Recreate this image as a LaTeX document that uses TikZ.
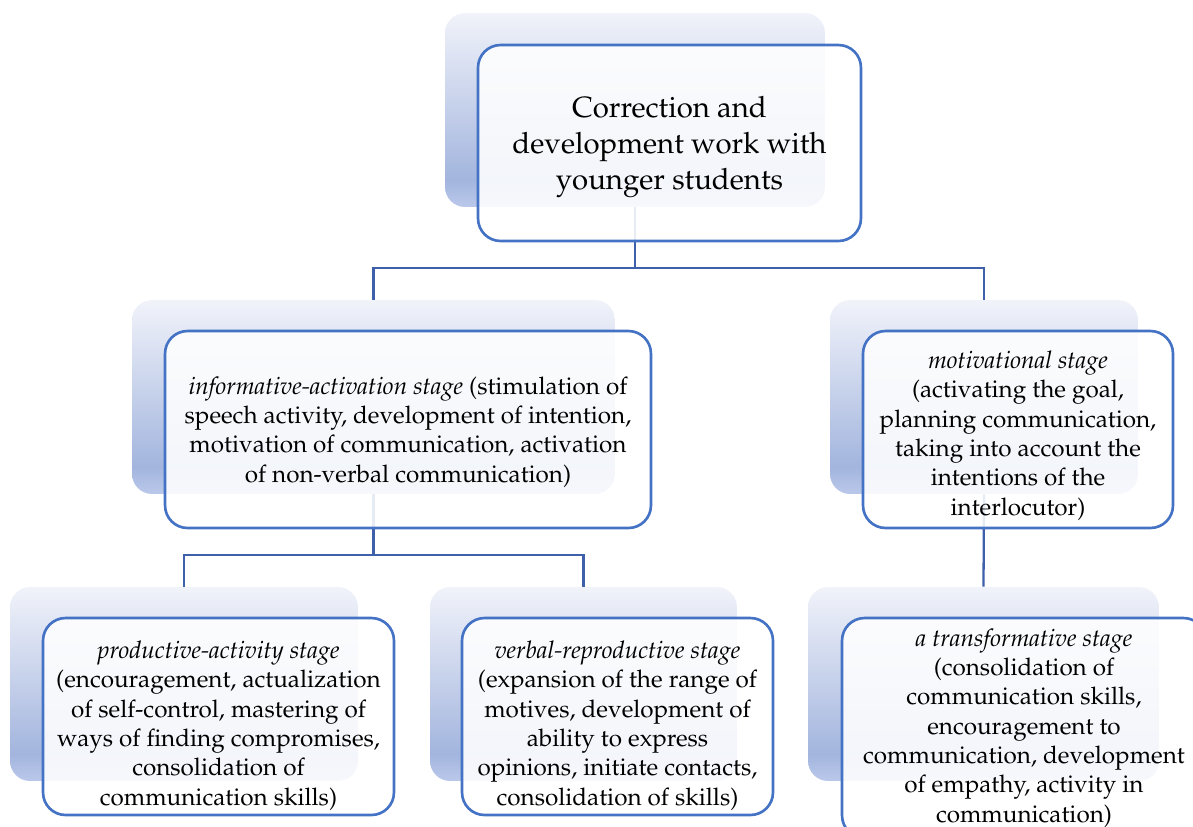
\documentclass[tikz,border=0pt]{standalone}
\usepackage[T1]{fontenc}
\usepackage{mathpazo}
\usepackage{tikz}
\usetikzlibrary{calc}

\definecolor{frameblue}{RGB}{68,114,196}
\definecolor{linkblue}{RGB}{62,96,170}
\definecolor{shTop}{RGB}{241,243,250}
\definecolor{shDark}{RGB}{163,181,222}
\definecolor{shLow}{RGB}{186,200,234}
\pgfdeclareverticalshading{stageshade}{100bp}{color(0bp)=(shLow); color(25bp)=(shLow); color(32bp)=(shDark); color(75bp)=(shTop); color(100bp)=(shTop)}
\newcommand{\lift}[1]{\rule{0pt}{#1}}

\begin{document}
\begin{tikzpicture}[x=0.02cm,y=-0.02cm,
        shadowbox/.style={rectangle,rounded corners=0.4cm,shading=stageshade,inner sep=0pt},
        stagebox/.style={rectangle,rounded corners=0.45cm,draw=frameblue,line width=1.5pt,fill=white,
          fill opacity=0.88,text opacity=1,align=center,inner sep=0pt,font=\fontsize{13.8}{16.7}\selectfont},
        link/.style={draw=linkblue,line width=1.3pt}]

        \useasboundingbox (0,0) rectangle (1193,826);

        % shaded backs
        \node [shadowbox,minimum width=7.6cm, minimum height=3.88cm] (topsh)  at (635,110)   {};
        \node [shadowbox,minimum width=9.66cm,minimum height=3.88cm] (infosh) at (373.5,397) {};
        \node [shadowbox,minimum width=6.16cm,minimum height=3.88cm] (motsh)  at (984,397)   {};
        \node [shadowbox,minimum width=6.96cm,minimum height=3.88cm] (prodsh) at (184,684)   {};
        \node [shadowbox,minimum width=6.14cm,minimum height=3.88cm] (verbsh) at (583.5,684) {};
        \node [shadowbox,minimum width=7.02cm,minimum height=3.88cm] (transh) at (983.5,684) {};

        % connectors
        \coordinate (j1) at ($(topsh.south)+(0,61)$);
        \coordinate (j2) at ($(infosh.south)+(0,61)$);
        \draw [link] (topsh.south) -- (j1) -| (infosh.north);
        \draw [link] (j1) -| (motsh.north);
        \draw [link] (infosh.south) -- (j2) -| (prodsh.north);
        \draw [link] (j2) -| (verbsh.north);
        \draw [link] (motsh.south) -- (transh.north);

        % stage boxes
        \node [stagebox,minimum width=7.66cm,minimum height=3.92cm,font=\fontsize{16.7}{20.6}\selectfont]
          (top) at (669.5,143) {\lift{16.8pt}Correction and\\development work with\\younger students};
        \node [stagebox,minimum width=9.72cm,minimum height=3.94cm] (info) at (408,429.5)
          {\lift{12.6pt}\textit{informative-activation stage} (stimulation of\\speech activity, development of intention,\\motivation of communication, activation\\of non-verbal communication)};
        \node [stagebox,minimum width=6.2cm,minimum height=3.94cm] (mot) at (1018,429.5)
          {\lift{17pt}\textit{motivational stage}\\(activating the goal,\\planning communication,\\taking into account the\\intentions of the\\interlocutor)};
        \node [stagebox,minimum width=7.02cm,minimum height=3.94cm] (prod) at (218.5,716.5)
          {\lift{20.3pt}\textit{productive-activity stage}\\(encouragement, actualization\\of self-control, mastering of\\ways of finding compromises,\\consolidation of\\communication skills)};
        \node [stagebox,minimum width=6.22cm,minimum height=3.94cm] (verb) at (617.5,716.5)
          {\lift{20.3pt}\textit{verbal-reproductive stage}\\(expansion of the range of\\motives, development of\\ability to express\\opinions, initiate contacts,\\consolidation of skills)};
        \node [stagebox,minimum width=7.28cm,minimum height=4.4cm] (tran) at (1024,728)
          {\textit{a transformative stage}\\(consolidation of\\communication skills,\\encouragement to\\communication, development\\of empathy, activity in\\communication)};
      \end{tikzpicture}
\end{document}
